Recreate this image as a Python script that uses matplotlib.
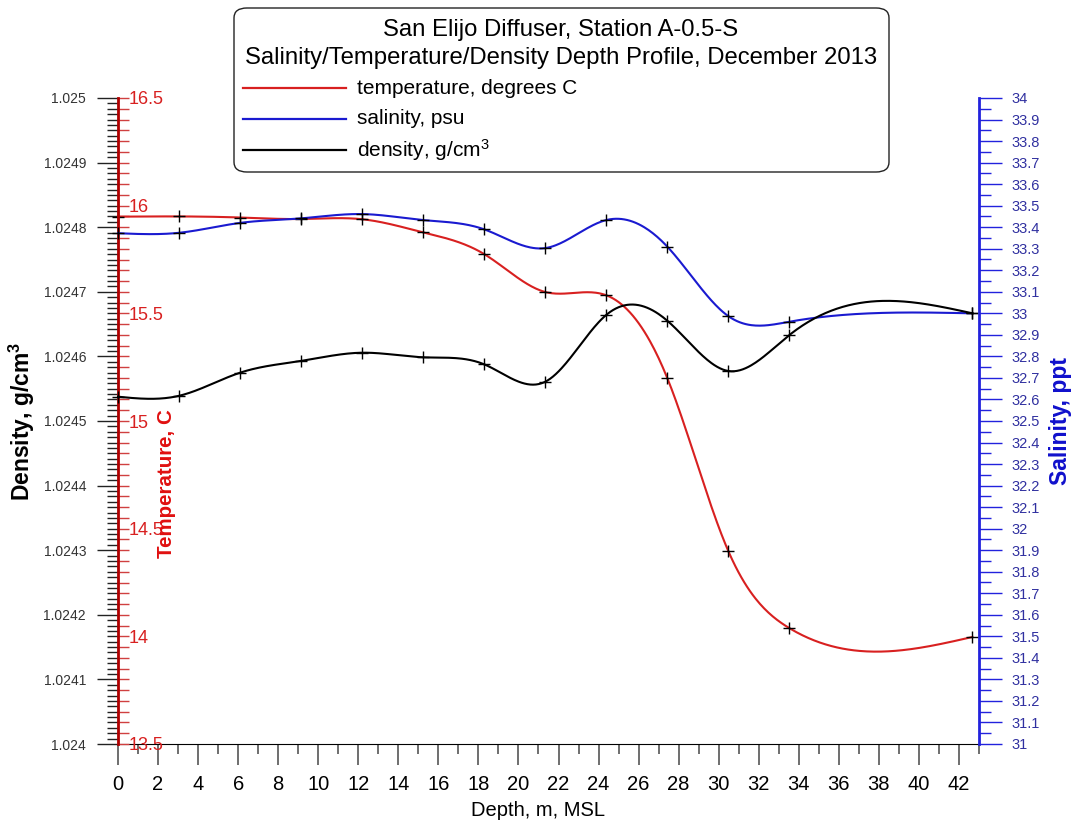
import numpy as np
import matplotlib
matplotlib.use("Agg")
import matplotlib.pyplot as plt
from matplotlib.ticker import MultipleLocator
from matplotlib.patches import FancyBboxPatch
from matplotlib.lines import Line2D

plt.rcParams['font.family'] = ['Liberation Sans', 'DejaVu Sans']
plt.rcParams['mathtext.fontset'] = 'custom'
plt.rcParams['mathtext.rm'] = 'Liberation Sans'
plt.rcParams['mathtext.it'] = 'Liberation Sans'
plt.rcParams['mathtext.bf'] = 'Liberation Sans:bold'

# ---- data ----
depth = [0.0, 3.05, 6.10, 9.14, 12.19, 15.24, 18.29, 21.34, 24.38, 27.43, 30.48, 33.53, 42.67]
temperature = [15.949, 15.95, 15.945, 15.938, 15.937, 15.876, 15.775, 15.599, 15.584, 15.20, 14.396, 14.038, 13.997]
salinity = [33.372, 33.374, 33.42, 33.441, 33.461, 33.433, 33.39, 33.303, 33.433, 33.31, 32.987, 32.961, 33.0]
density = [1.0245376, 1.024539, 1.0245748, 1.024593, 1.0246057, 1.0245986, 1.0245877,
           1.0245608, 1.0246641, 1.0246553, 1.0245774, 1.0246331, 1.0246667]

title_lines = ["San Elijo Diffuser, Station A-0.5-S",
               "Salinity/Temperature/Density Depth Profile, December 2013"]
legend_labels = ["temperature, degrees C", "salinity, psu", "density, g/cm$^{3}$"]


def natural_spline(x, y, num=600):
    x = np.asarray(x, float)
    y = np.asarray(y, float)
    y0 = y.mean()
    yy = y - y0
    n = len(x)
    h = np.diff(x)
    A = np.zeros((n, n))
    b = np.zeros(n)
    A[0, 0] = A[-1, -1] = 1.0
    for i in range(1, n - 1):
        A[i, i - 1] = h[i - 1]
        A[i, i] = 2 * (h[i - 1] + h[i])
        A[i, i + 1] = h[i]
        b[i] = 3 * ((yy[i + 1] - yy[i]) / h[i] - (yy[i] - yy[i - 1]) / h[i - 1])
    c = np.linalg.solve(A, b)
    bb = (yy[1:] - yy[:-1]) / h - h * (2 * c[:-1] + c[1:]) / 3
    d = (c[1:] - c[:-1]) / (3 * h)
    xs = np.linspace(x[0], x[-1], num)
    idx = np.clip(np.searchsorted(x, xs, side='right') - 1, 0, n - 2)
    dx = xs - x[idx]
    ys = yy[idx] + bb[idx] * dx + c[idx] * dx ** 2 + d[idx] * dx ** 3
    return xs, ys + y0


W, H = 1075, 826
fig = plt.figure(figsize=(W / 100, H / 100), dpi=100)
L, R, T, B = 118, 979, 98, 744
ax1 = fig.add_axes([L / W, 1 - B / H, (R - L) / W, (B - T) / H])
ax2 = ax1.twinx()
ax3 = ax1.twinx()

RED = '#d82020'
REDAX = '#b00000'
BLUE = '#1a1ad0'
BLUEAX = '#2222dd'

# density axis (left, black ticks outward)
ax1.set_xlim(0, 43)
ax1.set_ylim(1.024, 1.025)
ax1.yaxis.set_major_locator(MultipleLocator(0.0001))
ax1.yaxis.set_minor_locator(MultipleLocator(0.0001 / 12))
ax1.yaxis.set_major_formatter(plt.FuncFormatter(lambda v, p: ('%.4f' % v).rstrip('0')))
ax1.tick_params(axis='y', which='major', direction='out', length=15, width=1,
                color='#222222', labelsize=10, labelcolor='#333333', pad=8)
ax1.tick_params(axis='y', which='minor', direction='out', length=8, width=1, color='#222222')
ax1.set_xticks(np.arange(0, 43, 2))
ax1.xaxis.set_minor_locator(MultipleLocator(1))
ax1.tick_params(axis='x', which='major', direction='out', length=15, width=1.2,
                color='#555555', labelsize=14.5, labelcolor='black', pad=7)
ax1.tick_params(axis='x', which='minor', direction='out', length=7.5, width=1.2, color='#555555')
for s in ['top', 'right']:
    ax1.spines[s].set_visible(False)
ax1.spines['left'].set_color('#222222')
ax1.spines['bottom'].set_color('black')

# temperature axis (drawn at left spine, red ticks pointing right)
ax2.set_ylim(13.5, 16.5)
ax2.spines['right'].set_position(('axes', 0))
ax2.spines['right'].set_color(REDAX)
ax2.spines['right'].set_linewidth(2)
for s in ['top', 'left', 'bottom']:
    ax2.spines[s].set_visible(False)
ax2.yaxis.set_major_locator(MultipleLocator(0.5))
ax2.yaxis.set_minor_locator(MultipleLocator(0.05))
ax2.yaxis.set_major_formatter(plt.FuncFormatter(lambda v, p: ('%g' % v)))
ax2.tick_params(axis='y', which='both', direction='out', length=8, width=1,
                color='#d04040', labelsize=13, labelcolor=RED, pad=0)

# salinity axis (right)
ax3.set_ylim(31, 34)
ax3.spines['right'].set_color(BLUEAX)
ax3.spines['right'].set_linewidth(2)
for s in ['top', 'left', 'bottom']:
    ax3.spines[s].set_visible(False)
ax3.yaxis.set_major_locator(MultipleLocator(0.1))
ax3.yaxis.set_minor_locator(MultipleLocator(0.05))
ax3.yaxis.set_major_formatter(plt.FuncFormatter(lambda v, p: ('%g' % round(v, 2))))
ax3.tick_params(axis='y', which='major', direction='out', length=16.5, width=1,
                color=BLUEAX, labelsize=10.5, labelcolor='#3030a0', pad=7)
ax3.tick_params(axis='y', which='minor', direction='out', length=8.5, width=1, color=BLUEAX)

# curves
MS = 9
xs, ys = natural_spline(depth, temperature)
ax2.plot(xs, ys, color=RED, lw=1.5, clip_on=False)
ax2.plot(depth, temperature, ls='none', marker='+', ms=MS, mew=1, color='black', clip_on=False)
xs, ys = natural_spline(depth, salinity)
ax3.plot(xs, ys, color=BLUE, lw=1.5, clip_on=False)
ax3.plot(depth, salinity, ls='none', marker='+', ms=MS, mew=1, color='black', clip_on=False)
xs, ys = natural_spline(depth, density)
ax3.plot(xs, np.interp(ys, [1.024, 1.025], [31, 34]), color='black', lw=1.5, clip_on=False)
ax3.plot(depth, np.interp(density, [1.024, 1.025], [31, 34]), ls='none', marker='+', ms=MS,
         mew=1, color='black', clip_on=False)

# axis labels
fig.text(22 / W, 1 - 421 / H, "Density, g/cm$^{\\mathbf{3}}$", rotation=90, ha='center', va='center',
         fontsize=16.5, fontweight='bold', color='black')
fig.text(167 / W, 1 - 484 / H, "Temperature, C", rotation=90, ha='center', va='center',
         fontsize=14.8, fontweight='bold', color='#e01010')
fig.text(1060 / W, 1 - 421 / H, "Salinity, ppt", rotation=90, ha='center', va='center',
         fontsize=16.5, fontweight='bold', color='#1010cc')
fig.text(538 / W, 1 - 811 / H, "Depth, m, MSL", ha='center', va='center', fontsize=14.5, color='black')

# legend / title box
box = FancyBboxPatch((234 / W, 1 - 172 / H), (889 - 234) / W, (172 - 8) / H,
                     boxstyle="round,pad=0,rounding_size=0.012", transform=fig.transFigure,
                     facecolor='white', edgecolor='#222222', lw=1, zorder=10)
fig.patches.append(box)
fig.text(561 / W, 1 - 30 / H, title_lines[0], ha='center', va='center', fontsize=17.2, zorder=11)
fig.text(561 / W, 1 - 58 / H, title_lines[1], ha='center', va='center', fontsize=17.2, zorder=11)
colors = [RED, BLUE, 'black']
ys_leg = [88, 119, 150]
for lab, col, yl in zip(legend_labels, colors, ys_leg):
    fig.add_artist(Line2D([243 / W, 346 / W], [1 - yl / H, 1 - yl / H], color=col, lw=1.6,
                          transform=fig.transFigure, zorder=11))
    fig.text(357 / W, 1 - yl / H, lab, ha='left', va='center', fontsize=15, zorder=11)

fig.savefig("out.png", dpi=100)
